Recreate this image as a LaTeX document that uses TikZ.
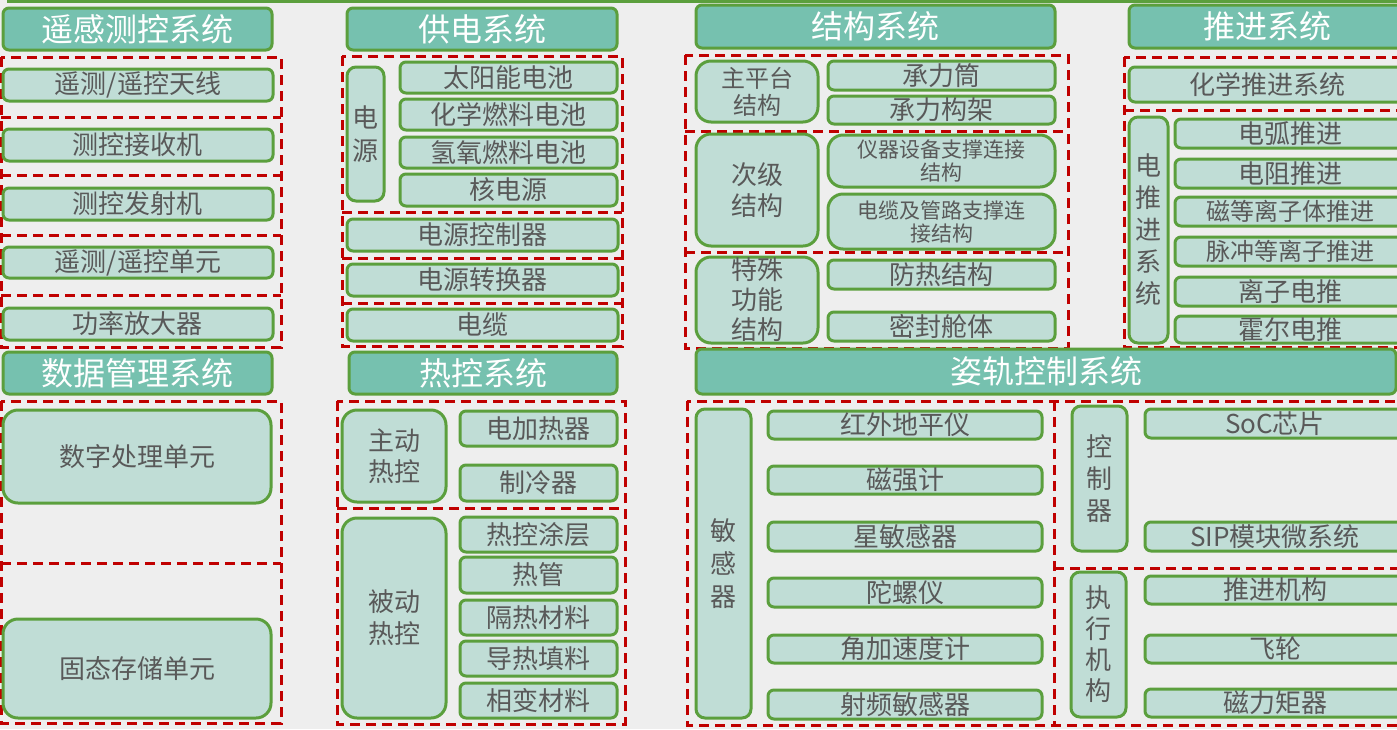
\documentclass[tikz,border=0pt]{standalone}
\usepackage{fontspec}
\setmainfont{Noto Sans CJK SC}
\definecolor{bg}{HTML}{EEEEEE}
\definecolor{hdrfill}{HTML}{76C1AF}
\definecolor{itmfill}{HTML}{C0DDD6}
\definecolor{gborder}{HTML}{5B9F3D}
\definecolor{txt}{HTML}{595959}
\definecolor{dred}{HTML}{C00000}
\tikzset{
 base/.style={draw=gborder, line width=3pt, rounded corners=6pt, inner sep=0pt, outer sep=0pt, align=center},
 hdr/.style={base, fill=hdrfill, text=white, font=\fontsize{32}{36}\selectfont},
 itm/.style={base, fill=itmfill, text=txt, font=\fontsize{26}{30}\selectfont},
 vert/.style={itm, font=\fontsize{26}{33}\selectfont, rounded corners=9pt},
 big/.style={itm, rounded corners=15pt},
 dbox/.style={draw=dred, line width=3pt, dash pattern=on 10pt off 6pt},
}
\newcommand\mkbox[7][itm]{%
 \pgfmathsetmacro\cx{(#3+#5)/2}\pgfmathsetmacro\cy{(#4+#6)/2}%
 \pgfmathsetmacro\ww{#5-#3}\pgfmathsetmacro\hh{#6-#4}%
 \node[#1, minimum width=\ww pt, minimum height=\hh pt, text width=\ww pt] (#2) at (\cx,\cy) {#7};}
\begin{document}
\begin{tikzpicture}[x=1pt,y=-1pt]
\useasboundingbox (0,0) rectangle (1397,729);
\fill[bg] (0,0) rectangle (1397,729);
\clip (0,0) rectangle (1397,729);
\draw[draw=gborder, line width=3pt] (7,1) -- (1400,1);

% ---------- dashed groups ----------
\draw[dbox] (1,57) rectangle (281,347);
\foreach \yy in {117,175,235,295} \draw[dbox] (1,\yy) -- (281,\yy);
\draw[dbox] (1,401) rectangle (281,723);
\draw[dbox] (1,563) -- (281,563);

\draw[dbox] (342,56) rectangle (622,346);
\foreach \yy in {212,258,303} \draw[dbox] (342,\yy) -- (622,\yy);
\draw[dbox] (337,401) rectangle (625,724);
\draw[dbox] (337,508) -- (625,508);

\draw[dbox] (685,55) rectangle (1068,348);
\foreach \yy in {131,252} \draw[dbox] (685,\yy) -- (1068,\yy);

\draw[dbox] (1124,57) rectangle (1405,347);
\draw[dbox] (1124,110) -- (1405,110);

\draw[dbox] (687,401) rectangle (1405,725);
\draw[dbox] (1054,401) -- (1054,725);
\draw[dbox] (1054,568) -- (1405,568);

% ---------- 遥感测控系统 ----------
\mkbox[hdr]{h1}{3}{8}{272}{50}{遥感测控系统}
\mkbox{a1}{3}{69}{273}{101}{遥测/遥控天线}
\mkbox{a2}{3}{129}{273}{161}{测控接收机}
\mkbox{a3}{3}{188}{273}{220}{测控发射机}
\mkbox{a4}{3}{247}{273}{278}{遥测/遥控单元}
\mkbox{a5}{3}{308}{273}{340}{功率放大器}

% ---------- 数据管理系统 ----------
\mkbox[hdr]{h2}{3}{352}{272}{394}{数据管理系统}
\mkbox[big]{b1}{3}{410}{271}{503}{数字处理单元}
\mkbox[big]{b2}{3}{619}{271}{718}{固态存储单元}

% ---------- 供电系统 ----------
\mkbox[hdr]{h3}{347}{8}{617}{50}{供电系统}
\mkbox[vert]{c0}{347}{67}{384}{201}{电\\源}
\mkbox{c1}{400}{62}{617}{93}{太阳能电池}
\mkbox{c2}{400}{99}{617}{130}{化学燃料电池}
\mkbox{c3}{400}{137}{617}{168}{氢氧燃料电池}
\mkbox{c4}{400}{174}{617}{206}{核电源}
\mkbox{c5}{347}{219}{618}{251}{电源控制器}
\mkbox{c6}{347}{264}{618}{296}{电源转换器}
\mkbox{c7}{347}{309}{618}{341}{电缆}

% ---------- 热控系统 ----------
\mkbox[hdr]{h4}{349}{352}{617}{394}{热控系统}
\mkbox[big,font=\fontsize{26}{31}\selectfont]{d0}{342}{410}{446}{502}{主动\\热控}
\mkbox{d1}{460}{411}{617}{446}{电加热器}
\mkbox{d2}{460}{465}{617}{501}{制冷器}
\mkbox[big,font=\fontsize{26}{32}\selectfont]{d3}{342}{518}{446}{718}{被动\\热控}
\mkbox{d4}{460}{517}{617}{552}{热控涂层}
\mkbox{d5}{460}{557}{617}{593}{热管}
\mkbox{d6}{460}{600}{617}{635}{隔热材料}
\mkbox{d7}{460}{641}{617}{676}{导热填料}
\mkbox{d8}{460}{683}{617}{718}{相变材料}

% ---------- 结构系统 ----------
\mkbox[hdr]{h5}{696}{5}{1055}{48}{结构系统}
\mkbox[big,font=\fontsize{24}{27}\selectfont]{e0}{696}{61}{818}{122}{主平台\\结构}
\mkbox{e1}{828}{61}{1055}{90}{承力筒}
\mkbox{e2}{828}{96}{1055}{124}{承力构架}
\mkbox[big,font=\fontsize{26}{31}\selectfont]{e3}{696}{134}{818}{246}{次级\\结构}
\mkbox[big,font=\fontsize{21}{23}\selectfont]{e4}{828}{135}{1055}{187}{仪器设备支撑连接\\结构}
\mkbox[big,font=\fontsize{21}{23}\selectfont]{e5}{828}{194}{1055}{249}{电缆及管路支撑连\\接结构}
\mkbox[big,font=\fontsize{26}{30}\selectfont]{e6}{696}{257}{818}{343}{特殊\\功能\\结构}
\mkbox{e7}{828}{260}{1055}{289}{防热结构}
\mkbox{e8}{828}{312}{1055}{341}{密封舱体}

% ---------- 推进系统 ----------
\mkbox[hdr]{h6}{1129}{5}{1405}{48}{推进系统}
\mkbox{f0}{1129}{67}{1405}{102}{化学推进系统}
\mkbox[vert,font=\fontsize{26}{32}\selectfont]{f1}{1129}{117}{1168}{343}{电\\推\\进\\系\\统}
\mkbox{f2}{1175}{119}{1405}{148}{电弧推进}
\mkbox{f3}{1175}{159}{1405}{188}{电阻推进}
\mkbox[itm,font=\fontsize{24}{28}\selectfont]{f4}{1175}{197}{1405}{226}{磁等离子体推进}
\mkbox[itm,font=\fontsize{24}{28}\selectfont]{f5}{1175}{237}{1405}{266}{脉冲等离子推进}
\mkbox{f6}{1175}{277}{1405}{306}{离子电推}
\mkbox{f7}{1175}{316}{1405}{343}{霍尔电推}

% ---------- 姿轨控制系统 ----------
\mkbox[hdr]{h7}{696}{349}{1396}{394}{姿轨控制系统}
\mkbox[vert]{g0}{696}{409}{751}{718}{敏\\感\\器}
\mkbox{g1}{768}{411}{1042}{439}{红外地平仪}
\mkbox{g2}{768}{466}{1042}{494}{磁强计}
\mkbox{g3}{768}{522}{1042}{551}{星敏感器}
\mkbox{g4}{768}{578}{1042}{607}{陀螺仪}
\mkbox{g5}{768}{635}{1042}{663}{角加速度计}
\mkbox{g6}{768}{690}{1042}{719}{射频敏感器}
\mkbox[vert,font=\fontsize{26}{32}\selectfont]{k0}{1072}{406}{1127}{551}{控\\制\\器}
\mkbox{k1}{1145}{409}{1405}{438}{SoC芯片}
\mkbox{k2}{1145}{522}{1405}{551}{SIP模块微系统}
\mkbox[vert,font=\fontsize{26}{31}\selectfont]{m0}{1071}{572}{1126}{717}{执\\行\\机\\构}
\mkbox{m1}{1145}{576}{1405}{604}{推进机构}
\mkbox{m2}{1145}{635}{1405}{663}{飞轮}
\mkbox{m3}{1145}{689}{1405}{717}{磁力矩器}
\end{tikzpicture}
\end{document}
